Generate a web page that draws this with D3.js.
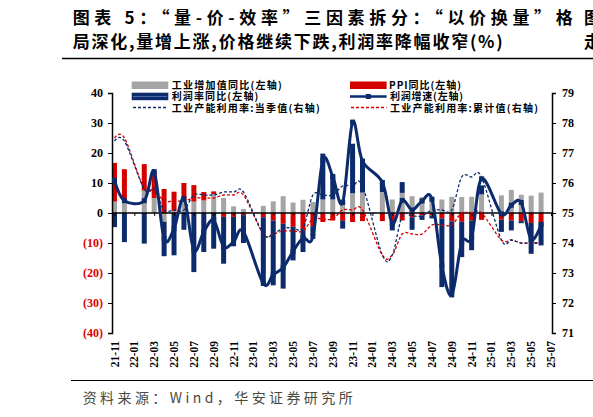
<!DOCTYPE html>
<html lang="zh">
<head>
    <meta charset="UTF-8">
    <title>量-价-效率三因素拆分</title>
    <script src="https://cdnjs.cloudflare.com/ajax/libs/d3/7.8.5/d3.min.js"></script>
    <style>
        body {
            margin: 0;
            background: #fff;
        }

        svg {
            display: block;
        }

        .num {
            font-family: "Liberation Serif", "Times New Roman", serif;
            font-weight: bold;
            font-size: 12px;
        }

        .cjk {
            font-family: "Noto Sans CJK SC", sans-serif;
        }
    </style>
</head>
<body>
<svg id="chart" width="593" height="417"></svg>

<script>
    // monthly data, January is merged into Jan-Feb so it stays empty
    let months = ["21-11", "21-12", "22-01", "22-02", "22-03", "22-04", "22-05", "22-06", "22-07", "22-08", "22-09", "22-10", "22-11", "22-12",
        "23-01", "23-02", "23-03", "23-04", "23-05", "23-06", "23-07", "23-08", "23-09", "23-10", "23-11", "23-12",
        "24-01", "24-02", "24-03", "24-04", "24-05", "24-06", "24-07", "24-08", "24-09", "24-10", "24-11", "24-12",
        "25-01", "25-02", "25-03", "25-04", "25-05", "25-06"];

    let tickLabels = ["21-11", "22-01", "22-03", "22-05", "22-07", "22-09", "22-11", "23-01", "23-03", "23-05", "23-07", "23-09",
        "23-11", "24-01", "24-03", "24-05", "24-07", "24-09", "24-11", "25-01", "25-03", "25-05", "25-07"];

    let valueAdded = [3.8, 4.3, null, 7.5, 5.0, -2.9, 0.7, 3.9, 3.8, 4.2, 6.3, 5.0, 2.2, 1.3,
        null, 2.4, 3.9, 5.6, 3.5, 4.4, 3.7, 4.5, 4.5, 4.6, 6.6, 6.8,
        null, 7.0, 4.5, 6.7, 5.6, 5.3, 5.1, 4.5, 5.4, 5.3, 5.4, 6.2,
        null, 5.9, 7.7, 6.1, 5.8, 6.8];

    let ppi = [12.9, 10.3, null, 8.8, 8.3, 8.0, 6.4, 6.1, 5.5, 2.8, 0.9, -1.3, -1.3, -0.7,
        null, -1.4, -2.5, -3.6, -4.6, -5.4, -4.4, -3.0, -2.5, -2.6, -3.0, -2.7,
        null, -2.7, -2.8, -2.5, -1.4, -0.8, -0.8, -1.8, -2.8, -2.9, -2.5, -2.3,
        null, -2.2, -2.5, -2.7, -3.3, -3.6];

    let marginYoy = [-4.7, -9.7, null, -10.2, 0.7, -11.5, -14.1, -5.6, -19.7, -13.0, -11.9, -15.6, -9.8, -9.3,
        null, -22.2, -21.6, -21.6, -11.2, -7.6, -3.0, 15.3, 8.1, -2.6, 16.5, 10.8,
        null, 3.0, -3.0, 3.6, -4.2, -1.5, -1.0, -22.9, -24.1, -11.8, -9.9, 3.0,
        null, -4.1, -3.3, -0.7, -10.3, -7.2];

    let profitGrowth = [10.9, 4.1, null, 4.1, 13.8, -8.5, -5.2, 4.8, -12.4, -6.3, -2.4, -11.2, -9.6, -6.2,
        null, -23.5, -20.5, -18.2, -12.8, -8.3, -7.8, 17.6, 12.2, 3.5, 30.3, 17.3,
        null, 10.2, -3.5, 4.2, 1.0, 4.0, 4.6, -17.6, -27.3, -9.8, -8.2, 11.4,
        null, -0.3, 2.6, 3.5, -8.9, -3.8];

    let capUtilQuarter = [77.4, 77.4, null, 75.8, 75.8, 75.1, 75.1, 75.1, 75.6, 75.6, 75.6, 75.7, 75.7, 75.7,
        null, 74.3, 74.3, 74.5, 74.5, 74.5, 75.6, 75.6, 75.6, 75.9, 75.9, 75.9,
        null, 73.6, 73.6, 74.9, 74.9, 74.9, 75.1, 75.1, 75.1, 76.2, 76.2, 76.2,
        null, 74.1, 74.1, 74.0, 74.0, 74.0];

    let capUtilCumul = [77.5, 77.5, null, 75.8, 75.8, 75.4, 75.4, 75.4, 75.5, 75.5, 75.5, 75.6, 75.6, 75.6,
        null, 74.3, 74.3, 74.4, 74.4, 74.4, 74.8, 74.8, 74.8, 75.1, 75.1, 75.1,
        null, 73.6, 73.6, 74.3, 74.3, 74.3, 74.6, 74.6, 74.6, 75.0, 75.0, 75.0,
        null, 74.1, 74.1, 74.0, 74.0, 74.0];

    let leftTicks = [-40, -30, -20, -10, 0, 10, 20, 30, 40];
    let rightTicks = [71, 72, 73, 74, 75, 76, 77, 78, 79];

    let grey = "#a5a5a5";
    let red = "#d40000";
    let navy = "#0b2b6c";

    let svg = d3.select("#chart");

    let x = d3.scaleLinear().domain([0, (tickLabels.length - 1) * 2]).range([114.5, 551]);
    let yL = d3.scaleLinear().domain([-40, 40]).range([333, 93]);
    let yR = d3.scaleLinear().domain([71, 79]).range([333, 93]);

    // title
    let title = svg.append("g").attr("class", "cjk").style("font-weight", "bold").style("font-size", "17px");
    title.append("text").attr("x", 72.7).attr("y", 24).attr("textLength", 500).attr("lengthAdjust", "spacing")
        .text("图表 5：“量-价-效率”三因素拆分：“以价换量”格");
    title.append("text").attr("x", 72.7).attr("y", 47.5).attr("textLength", 430).attr("lengthAdjust", "spacing")
        .text("局深化,量增上涨,价格继续下跌,利润率降幅收窄(%)");
    title.append("text").attr("x", 584).attr("y", 24).text("图");
    title.append("text").attr("x", 584).attr("y", 47.5).text("走");

    svg.append("line").attr("x1", 62).attr("x2", 593).attr("y1", 58.5).attr("y2", 58.5)
        .attr("stroke", "#000").attr("stroke-width", 1.3);

    // stacked bars
    let rows = [];
    for (let i = 0; i < months.length; i++) {
        if (valueAdded[i] === null) continue;
        rows.push({i: i, va: valueAdded[i], ppi: ppi[i], margin: marginYoy[i]});
    }

    let stack = d3.stack().keys(["va", "ppi", "margin"]).offset(d3.stackOffsetDiverging);
    let layers = stack(rows);
    let barColors = {va: grey, ppi: red, margin: navy};
    let barW = 5;

    svg.append("g").selectAll("g")
        .data(layers)
        .join("g")
        .attr("fill", d => barColors[d.key])
        .selectAll("rect")
        .data(d => d)
        .join("rect")
        .attr("x", d => x(d.data.i) - barW / 2)
        .attr("width", barW)
        .attr("y", d => yL(Math.max(d[0], d[1])))
        .attr("height", d => Math.abs(yL(d[0]) - yL(d[1])));

    // axes
    let leftAxis = svg.append("g").attr("class", "num")
        .attr("transform", "translate(112,0)")
        .call(d3.axisLeft(yL).tickValues(leftTicks).tickSize(4).tickPadding(5)
            .tickFormat(d => d < 0 ? "(" + (-d) + ")" : d));
    leftAxis.selectAll("text").attr("fill", d => d < 0 ? "#e00000" : "#000").style("font-size", "12px");
    leftAxis.select(".domain").attr("stroke-width", 1.5);

    let rightAxis = svg.append("g").attr("class", "num")
        .attr("transform", "translate(552,0)")
        .call(d3.axisRight(yR).tickValues(rightTicks).tickSize(4).tickPadding(6));
    rightAxis.selectAll("text").style("font-size", "12px");
    rightAxis.select(".domain").attr("stroke-width", 1.5);

    // zero line with month ticks
    svg.append("line").attr("x1", 112).attr("x2", 552).attr("y1", yL(0)).attr("y2", yL(0))
        .attr("stroke", "#000").attr("stroke-width", 1.5);

    let tickIdx = tickLabels.map((t, k) => k * 2);
    let xAxis = svg.append("g")
        .attr("transform", "translate(0," + yL(0) + ")")
        .call(d3.axisBottom(x).tickValues(tickIdx).tickSize(3).tickFormat(""));
    xAxis.select(".domain").remove();

    svg.append("g").attr("class", "num").style("font-size", "11.5px")
        .selectAll("text")
        .data(tickLabels)
        .join("text")
        .attr("transform", (d, k) => "translate(" + (x(k * 2) + 4) + ",341) rotate(-90)")
        .attr("text-anchor", "end")
        .text(d => d);

    // dashed utilisation lines (right axis)
    function series(arr) {
        let pts = [];
        for (let i = 0; i < arr.length; i++) {
            if (arr[i] !== null) pts.push([i, arr[i]]);
        }
        return pts;
    }

    let lineR = d3.line().x(d => x(d[0])).y(d => yR(d[1])).curve(d3.curveCardinal);

    svg.append("path").datum(series(capUtilCumul))
        .attr("d", lineR).attr("fill", "none").attr("stroke", red)
        .attr("stroke-width", 1.3).attr("stroke-dasharray", "3,2");

    svg.append("path").datum(series(capUtilQuarter))
        .attr("d", lineR).attr("fill", "none").attr("stroke", navy)
        .attr("stroke-width", 1.3).attr("stroke-dasharray", "3,2");

    // profit growth line (left axis)
    let lineL = d3.line().x(d => x(d[0])).y(d => yL(d[1])).curve(d3.curveCardinal);
    let profitPts = series(profitGrowth);

    svg.append("path").datum(profitPts)
        .attr("d", lineL).attr("fill", "none").attr("stroke", navy).attr("stroke-width", 3);

    svg.append("g").attr("fill", navy).selectAll("rect")
        .data(profitPts)
        .join("rect")
        .attr("x", d => x(d[0]) - 2.5)
        .attr("y", d => yL(d[1]) - 2.5)
        .attr("width", 5)
        .attr("height", 5);

    // legend
    let legend = svg.append("g").attr("class", "cjk").style("font-size", "10px").style("font-weight", "bold");

    legend.append("rect").attr("x", 131.7).attr("y", 81.5).attr("width", 36.6).attr("height", 7.5).attr("fill", grey);
    legend.append("text").attr("x", 171.7).attr("y", 89).attr("textLength", 110).attr("lengthAdjust", "spacing")
        .text("工业增加值同比(左轴)");

    legend.append("rect").attr("x", 350).attr("y", 81.5).attr("width", 36.6).attr("height", 7.5).attr("fill", red);
    legend.append("text").attr("x", 389).attr("y", 89).attr("textLength", 72).attr("lengthAdjust", "spacing")
        .text("PPI同比(左轴)");

    legend.append("rect").attr("x", 131.7).attr("y", 92.7).attr("width", 36.6).attr("height", 7.5).attr("fill", navy);
    legend.append("line").attr("x1", 133).attr("x2", 167).attr("y1", 96.5).attr("y2", 96.5)
        .attr("stroke", "#5c78b8").attr("stroke-width", 0.8);
    legend.append("text").attr("x", 171.7).attr("y", 100.3).attr("textLength", 86.6).attr("lengthAdjust", "spacing")
        .text("利润率同比(左轴)");

    legend.append("line").attr("x1", 350).attr("x2", 386.6).attr("y1", 96.5).attr("y2", 96.5)
        .attr("stroke", navy).attr("stroke-width", 2.5);
    legend.append("rect").attr("x", 365.8).attr("y", 94).attr("width", 5).attr("height", 5).attr("fill", navy);
    legend.append("text").attr("x", 390).attr("y", 100.3).attr("textLength", 73).attr("lengthAdjust", "spacing")
        .text("利润增速(左轴)");

    legend.append("line").attr("x1", 133).attr("x2", 168).attr("y1", 107.5).attr("y2", 107.5)
        .attr("stroke", navy).attr("stroke-width", 1.3).attr("stroke-dasharray", "3,2");
    legend.append("text").attr("x", 171.7).attr("y", 111.5).attr("textLength", 148).attr("lengthAdjust", "spacing")
        .text("工业产能利用率:当季值(右轴)");

    legend.append("line").attr("x1", 351).attr("x2", 386.6).attr("y1", 107.5).attr("y2", 107.5)
        .attr("stroke", red).attr("stroke-width", 1.3).attr("stroke-dasharray", "3,2");
    legend.append("text").attr("x", 390).attr("y", 111.5).attr("textLength", 148).attr("lengthAdjust", "spacing")
        .text("工业产能利用率:累计值(右轴)");

    // source
    svg.append("line").attr("x1", 71).attr("x2", 593).attr("y1", 380.5).attr("y2", 380.5)
        .attr("stroke", "#000").attr("stroke-width", 1.2);
    svg.append("text").attr("class", "cjk").attr("x", 82.7).attr("y", 403)
        .attr("textLength", 270).attr("lengthAdjust", "spacing")
        .style("font-size", "14px").attr("fill", "#4a4a3c")
        .text("资料来源：Wind，华安证券研究所");
</script>
</body>
</html>
